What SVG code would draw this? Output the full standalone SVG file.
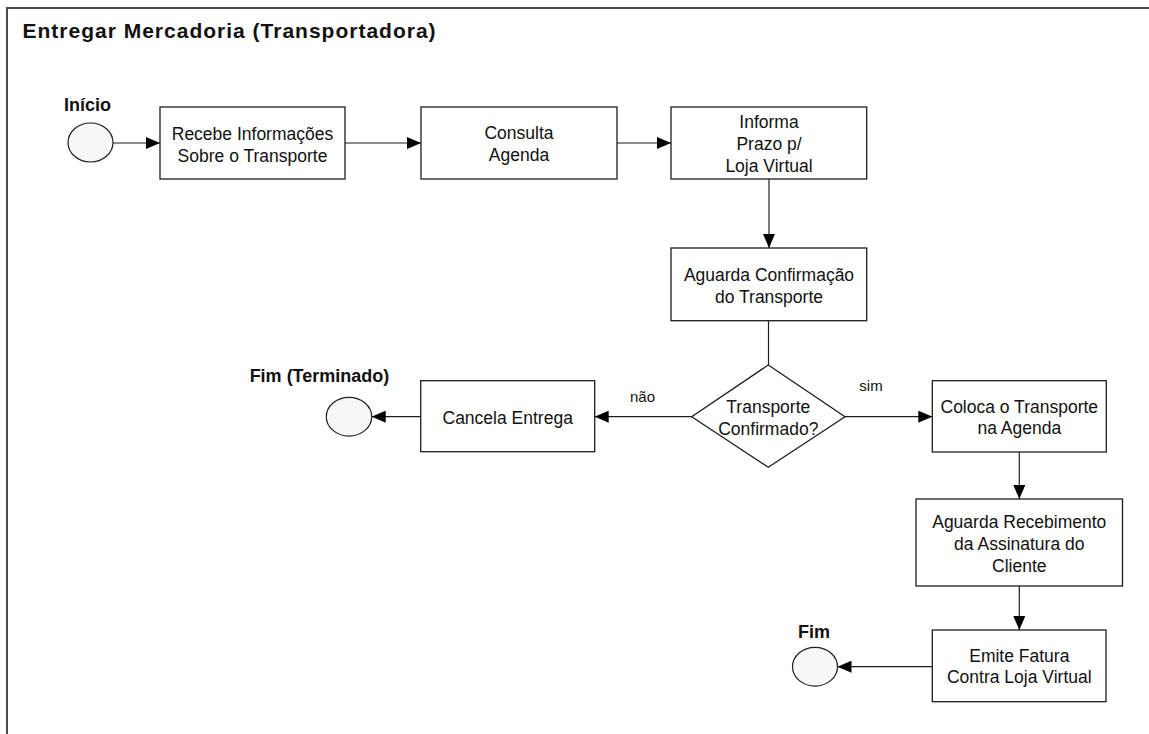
<svg xmlns="http://www.w3.org/2000/svg" width="1149" height="734" viewBox="0 0 1149 734">
  <style>
    .frame { fill: none; stroke: #4a4a4a; stroke-width: 2; }
    .box { fill: #ffffff; stroke: #1e1e1e; stroke-width: 1.3; }
    .event { fill: #f7f7f7; stroke: #1e1e1e; stroke-width: 1.2; }
    .edge { fill: none; stroke: #1e1e1e; stroke-width: 1.2; }
    .t { font-family: "Liberation Sans", Arial, sans-serif; font-size: 17.5px; fill: #111; text-anchor: middle; }
    .lbl { font-family: "Liberation Sans", Arial, sans-serif; font-size: 15px; fill: #111; }
    .b { font-family: "Liberation Sans", Arial, sans-serif; font-weight: bold; font-size: 18px; fill: #111; }
    .title { font-family: "Liberation Sans", Arial, sans-serif; font-weight: bold; font-size: 21px; letter-spacing: 1px; fill: #111; }
  </style>
  <defs>
    <marker id="arrow" markerUnits="userSpaceOnUse" markerWidth="14" markerHeight="12" refX="14" refY="6" orient="auto">
      <path d="M0,0 L14,6 L0,12 Z" fill="#000"/>
    </marker>
  </defs>

  <rect x="0" y="0" width="1149" height="734" fill="#ffffff"/>

  <!-- pool frame: top and left edges -->
  <path class="frame" d="M7,734 L7,8 L1149,8"/>
  <text class="title" x="22.5" y="38.3">Entregar Mercadoria (Transportadora)</text>

  <!-- connectors -->
  <g id="connectors">
    <line class="edge" x1="113" y1="143" x2="160" y2="143" marker-end="url(#arrow)"/>
    <line class="edge" x1="345" y1="143" x2="421" y2="143" marker-end="url(#arrow)"/>
    <line class="edge" x1="617" y1="143" x2="671" y2="143" marker-end="url(#arrow)"/>
    <line class="edge" x1="769" y1="179" x2="769" y2="248" marker-end="url(#arrow)"/>
    <line class="edge" x1="768.5" y1="320.7" x2="768.5" y2="365"/>
    <line class="edge" x1="845" y1="416.7" x2="932.3" y2="416.7" marker-end="url(#arrow)"/>
    <line class="edge" x1="691.7" y1="416.7" x2="594.7" y2="416.7" marker-end="url(#arrow)"/>
    <line class="edge" x1="420.7" y1="416.7" x2="371.7" y2="416.7" marker-end="url(#arrow)"/>
    <line class="edge" x1="1019.3" y1="452" x2="1019.3" y2="499" marker-end="url(#arrow)"/>
    <line class="edge" x1="1019.3" y1="586" x2="1019.3" y2="630" marker-end="url(#arrow)"/>
    <line class="edge" x1="932.3" y1="666.7" x2="837.5" y2="666.7" marker-end="url(#arrow)"/>
    <text class="lbl" x="630" y="401.7">não</text>
    <text class="lbl" x="859.3" y="390.7">sim</text>
  </g>

  <g id="inicio">
    <ellipse class="event" cx="90.5" cy="142.5" rx="22.5" ry="19.5"/>
    <text class="b" x="64" y="111">Início</text>
  </g>

  <g id="recebe-informacoes">
    <rect class="box" x="160" y="107" width="185" height="72"/>
    <text class="t" x="252.5" y="139.5">Recebe Informações</text>
    <text class="t" x="252.5" y="161.5">Sobre o Transporte</text>
  </g>

  <g id="consulta-agenda">
    <rect class="box" x="421" y="107" width="196" height="72"/>
    <text class="t" x="519" y="139.3">Consulta</text>
    <text class="t" x="519" y="161.3">Agenda</text>
  </g>

  <g id="informa-prazo">
    <rect class="box" x="671" y="107" width="195.7" height="72"/>
    <text class="t" x="769" y="128.3">Informa</text>
    <text class="t" x="769" y="150">Prazo p/</text>
    <text class="t" x="769" y="172">Loja Virtual</text>
  </g>

  <g id="aguarda-confirmacao">
    <rect class="box" x="671" y="248" width="195.7" height="72.7"/>
    <text class="t" x="769" y="281">Aguarda Confirmação</text>
    <text class="t" x="769" y="303">do Transporte</text>
  </g>

  <g id="transporte-confirmado">
    <polygon class="box" points="768.3,365 845,416.7 768.3,467.3 691.7,416.7"/>
    <text class="t" x="768.3" y="413">Transporte</text>
    <text class="t" x="768.3" y="434.5">Confirmado?</text>
  </g>

  <g id="cancela-entrega">
    <rect class="box" x="420.7" y="380.7" width="174" height="71"/>
    <text class="t" x="507.7" y="424.3">Cancela Entrega</text>
  </g>

  <g id="fim-terminado">
    <ellipse class="event" cx="349" cy="416.7" rx="22.7" ry="19.4"/>
    <text class="b" x="389.3" y="381.7" text-anchor="end">Fim (Terminado)</text>
  </g>

  <g id="coloca-transporte">
    <rect class="box" x="932.3" y="380.7" width="174" height="71.3"/>
    <text class="t" x="1019.3" y="413.3">Coloca o Transporte</text>
    <text class="t" x="1019.3" y="434">na Agenda</text>
  </g>

  <g id="aguarda-assinatura">
    <rect class="box" x="916" y="499" width="206.5" height="87"/>
    <text class="t" x="1019.3" y="528.3">Aguarda Recebimento</text>
    <text class="t" x="1019.3" y="550">da Assinatura do</text>
    <text class="t" x="1019.3" y="571.7">Cliente</text>
  </g>

  <g id="emite-fatura">
    <rect class="box" x="932.3" y="630" width="173.7" height="71.7"/>
    <text class="t" x="1019.3" y="661.7">Emite Fatura</text>
    <text class="t" x="1019.3" y="683.3">Contra Loja Virtual</text>
  </g>

  <g id="fim">
    <ellipse class="event" cx="815" cy="666.7" rx="22.5" ry="19.4"/>
    <text class="b" x="798" y="638">Fim</text>
  </g>
</svg>
